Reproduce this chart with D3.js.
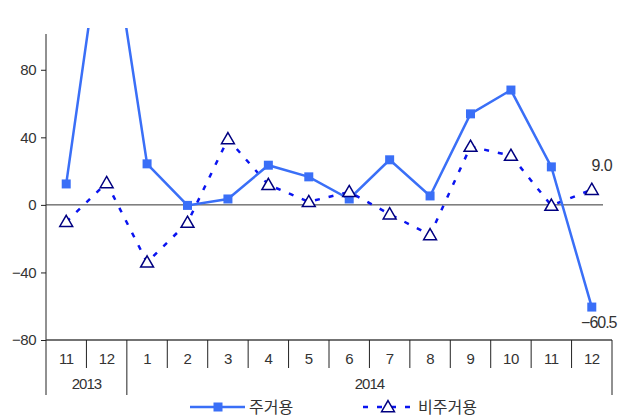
<!DOCTYPE html>
<html>
<head>
<meta charset="utf-8" />
<style>
  body { margin: 0; background: #fff; }
  text { font-family: "Liberation Sans", "Noto Sans CJK KR", sans-serif; fill: #333; }
  .kr { font-family: "Noto Sans CJK KR", sans-serif; }
</style>
</head>
<body>
<svg id="chart" width="628" height="417"></svg>
<script src="https://d3js.org/d3.v7.min.js"></script>
<script>
  const months = ["11", "12", "1", "2", "3", "4", "5", "6", "7", "8", "9", "10", "11", "12"];
  const years = [{ label: "2013", from: 0, to: 2 }, { label: "2014", from: 2, to: 14 }];
  const residential = [12.4, 181, 24.3, -0.3, 3.5, 23.5, 16.6, 3.5, 26.7, 5.3, 53.9, 68, 22.5, -60.5];
  const nonResidential = [-10, 13, -34, -10.5, 39, 11.9, 1.8, 7.7, -5.5, -17.8, 34.5, 29.2, -0.4, 9.0];
  const yTicks = [-80, -40, 0, 40, 80];

  const svg = d3.select("#chart");
  const pLeft = 46, pRight = 612, pTop = 36, pBottom = 340;

  const x = d3.scaleBand().domain(d3.range(months.length)).range([pLeft, pRight]);
  const y = d3.scaleLinear().domain([-80, 100]).range([pBottom, pTop]);
  const cx = i => x(i) + x.bandwidth() / 2;

  // clip so the off-scale point runs out the top
  svg.append("clipPath").attr("id", "clip")
    .append("rect").attr("x", pLeft).attr("y", 28).attr("width", pRight - pLeft).attr("height", pBottom - 28);

  // y axis
  const yAxis = d3.axisLeft(y).tickValues(yTicks).tickSize(5).tickFormat(d => d < 0 ? "\u2212" + Math.abs(d) : d);
  const gy = svg.append("g").attr("transform", `translate(${pLeft},0)`).call(yAxis);
  gy.select(".domain").attr("d", `M0,${pBottom}V${pTop - 2}`).attr("stroke", "#222");
  gy.selectAll(".tick line").attr("stroke", "#222");
  gy.selectAll(".tick text").attr("font-size", 15).attr("fill", "#333")
    .attr("font-family", "Liberation Sans, sans-serif").attr("x", -10).attr("letter-spacing", -0.5);

  // zero line
  svg.append("line")
    .attr("x1", pLeft).attr("x2", 603).attr("y1", y(0)).attr("y2", y(0))
    .attr("stroke", "#333").attr("stroke-width", 1);

  // category axis
  svg.append("line").attr("x1", pLeft).attr("x2", pRight).attr("y1", pBottom).attr("y2", pBottom)
    .attr("stroke", "#444").attr("stroke-width", 1.5);
  const yearBreaks = new Set(years.map(d => d.from).concat(years.map(d => d.to)));
  d3.range(months.length + 1).forEach(i => {
    const xx = i < months.length ? x(i) : pRight;
    svg.append("line").attr("x1", xx).attr("x2", xx)
      .attr("y1", pBottom).attr("y2", yearBreaks.has(i) ? 395 : 368)
      .attr("stroke", "#222").attr("stroke-width", 1);
  });
  svg.selectAll(".month").data(months).join("text")
    .attr("x", (d, i) => cx(i)).attr("y", 364)
    .attr("text-anchor", "middle").attr("font-size", 15).attr("letter-spacing", -0.5).text(d => d);
  svg.selectAll(".year").data(years).join("text")
    .attr("x", d => (x(d.from) + (d.to < months.length ? x(d.to) : pRight)) / 2).attr("y", 389)
    .attr("text-anchor", "middle").attr("font-size", 15).attr("letter-spacing", -1).text(d => d.label);

  const plot = svg.append("g").attr("clip-path", "url(#clip)");

  // non-residential dotted
  const line = d3.line().x((d, i) => cx(i)).y(d => y(d));
  plot.append("path").datum(nonResidential).attr("d", line)
    .attr("fill", "none").attr("stroke", "#0a14f0").attr("stroke-width", 2.5)
    .attr("stroke-dasharray", "5,9");

  // residential solid
  plot.append("path").datum(residential).attr("d", line)
    .attr("fill", "none").attr("stroke", "#3a6ff7").attr("stroke-width", 2.5);
  plot.selectAll(".sq").data(residential).join("rect")
    .attr("x", (d, i) => cx(i) - 4.5).attr("y", d => y(d) - 4.5)
    .attr("width", 9).attr("height", 9).attr("fill", "#3a6ff7");

  const tri = d3.symbol().type(d3.symbolTriangle).size(72);
  plot.selectAll(".tri").data(nonResidential).join("path")
    .attr("d", tri).attr("transform", (d, i) => `translate(${cx(i)},${y(d) + 1})`)
    .attr("fill", "#fff").attr("stroke", "#000080").attr("stroke-width", 1.5);

  // value labels
  svg.append("text").attr("x", cx(13) + 10).attr("y", y(9.0) - 19)
    .attr("text-anchor", "middle").attr("font-size", 16).attr("letter-spacing", -0.5).text("9.0");
  svg.append("text").attr("x", cx(13) + 7).attr("y", y(-60.5) + 21)
    .attr("text-anchor", "middle").attr("font-size", 16).attr("letter-spacing", -1).text("\u221260.5");

  // legend
  const lg = svg.append("g");
  lg.append("line").attr("x1", 190).attr("x2", 245).attr("y1", 407).attr("y2", 407)
    .attr("stroke", "#3a6ff7").attr("stroke-width", 2.5);
  lg.append("rect").attr("x", 213.5).attr("y", 402.5).attr("width", 9).attr("height", 9).attr("fill", "#3a6ff7");
  lg.append("text").attr("class", "kr").attr("x", 249).attr("y", 413).attr("font-size", 16).text("주거용");
  lg.append("line").attr("x1", 363).attr("x2", 413).attr("y1", 407).attr("y2", 407)
    .attr("stroke", "#0a14f0").attr("stroke-width", 2.5).attr("stroke-dasharray", "5,9");
  lg.append("path").attr("d", tri).attr("transform", "translate(388,408)")
    .attr("fill", "#fff").attr("stroke", "#000080").attr("stroke-width", 1.5);
  lg.append("text").attr("class", "kr").attr("x", 418).attr("y", 413).attr("font-size", 16).text("비주거용");
</script>
</body>
</html>
